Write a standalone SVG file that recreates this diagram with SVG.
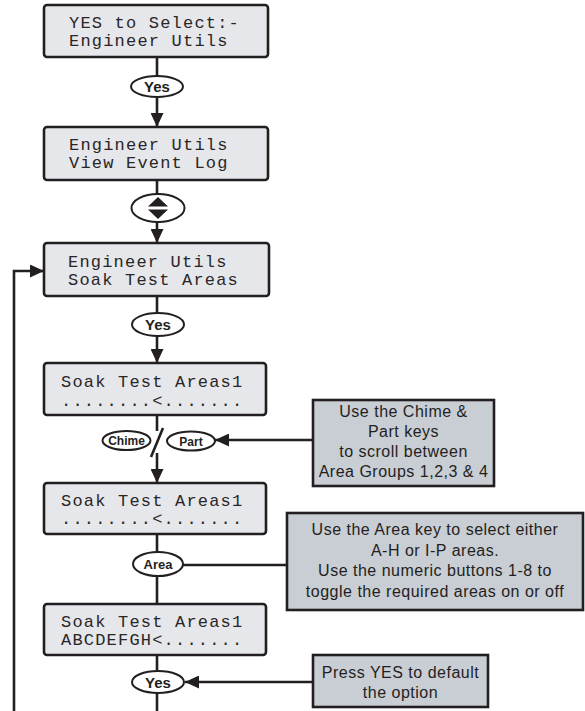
<svg xmlns="http://www.w3.org/2000/svg" width="585" height="711" viewBox="0 0 585 711">
<style>
.scr{fill:#e5e7eb;stroke:#231f20;stroke-width:2.6}
.note{fill:#c9cdd4;stroke:#231f20;stroke-width:2.6}
.lcd{font-family:"Liberation Mono","DejaVu Sans Mono",monospace;font-size:17px;letter-spacing:1.2px;fill:#2a2627}
.nt{font-family:"Liberation Sans",Arial,sans-serif;font-size:16px;letter-spacing:0.5px;fill:#231f20;text-anchor:middle}
.key{fill:#ffffff;stroke:#231f20;stroke-width:2}
.kt{font-family:"Liberation Sans",Arial,sans-serif;font-weight:bold;fill:#231f20;text-anchor:middle}
.ln{fill:none;stroke:#231f20;stroke-width:2.6}
</style>
<defs>
<marker id="ah" markerUnits="userSpaceOnUse" markerWidth="14" markerHeight="13" refX="14" refY="6.5" orient="auto">
<path d="M0,0 L14,6.5 L0,13 z" fill="#231f20"/>
</marker>
</defs>
<g id="connectors">
<path class="ln" d="M157,57 V76"/>
<path class="ln" d="M157,97 V127" marker-end="url(#ah)"/>
<path class="ln" d="M157,180 V194"/>
<path class="ln" d="M157,222 V243" marker-end="url(#ah)"/>
<path class="ln" d="M157,296 V313"/>
<path class="ln" d="M157,336 V363" marker-end="url(#ah)"/>
<path class="ln" d="M157,415 V431"/>
<path class="ln" d="M163,428 L151,457"/>
<path class="ln" d="M157,453 V483" marker-end="url(#ah)"/>
<path class="ln" d="M313,440 H215" marker-end="url(#ah)"/>
<path class="ln" d="M157,534 V552"/>
<path class="ln" d="M157,576 V604"/>
<path class="ln" d="M183,565 H287"/>
<path class="ln" d="M157,655 V671"/>
<path class="ln" d="M157,693 V711"/>
<path class="ln" d="M313,682 H185" marker-end="url(#ah)"/>
<path class="ln" d="M14,711 V271 H44" marker-end="url(#ah)"/>
</g>
<g id="screen1">
<rect class="scr" x="44" y="5" width="224" height="52" rx="3"/>
<text class="lcd" x="69" y="28">YES to Select:-</text>
<text class="lcd" x="69" y="46">Engineer Utils</text>
</g>
<g id="key-yes1">
<ellipse class="key" cx="157" cy="86.5" rx="26" ry="10.5"/>
<text class="kt" x="157" y="92" font-size="15">Yes</text>
</g>
<g id="screen2">
<rect class="scr" x="44" y="127" width="224" height="53" rx="3"/>
<text class="lcd" x="69" y="150">Engineer Utils</text>
<text class="lcd" x="69" y="168">View Event Log</text>
</g>
<g id="key-updown">
<ellipse class="key" cx="158" cy="208" rx="26.5" ry="14"/>
<path d="M158,197 L168,206.5 L148,206.5 z" fill="#231f20"/>
<path d="M148,209.5 L168,209.5 L158,219 z" fill="#231f20"/>
</g>
<g id="screen3">
<rect class="scr" x="44" y="243" width="225" height="53" rx="3"/>
<text class="lcd" x="68" y="267">Engineer Utils</text>
<text class="lcd" x="68" y="285">Soak Test Areas</text>
</g>
<g id="key-yes2">
<ellipse class="key" cx="158" cy="324.5" rx="26" ry="11.5"/>
<text class="kt" x="158" y="330" font-size="15">Yes</text>
</g>
<g id="screen4">
<rect class="scr" x="44" y="363" width="222" height="52" rx="3"/>
<text class="lcd" x="61" y="387">Soak Test Areas1</text>
<text class="lcd" x="61" y="406">........&lt;.......</text>
</g>
<g id="key-chime">
<ellipse class="key" cx="126.5" cy="440.5" rx="24" ry="9.5"/>
<text class="kt" x="126.5" y="445" font-size="12">Chime</text>
</g>
<g id="key-part">
<ellipse class="key" cx="191" cy="441" rx="24" ry="9.5"/>
<text class="kt" x="191" y="445.5" font-size="12">Part</text>
</g>
<g id="note1">
<rect class="note" x="313" y="400" width="181" height="86"/>
<text class="nt" x="403.5" y="417">Use the Chime &amp;</text>
<text class="nt" x="403.5" y="437">Part keys</text>
<text class="nt" x="403.5" y="457">to scroll between</text>
<text class="nt" x="403.5" y="477">Area Groups 1,2,3 &amp; 4</text>
</g>
<g id="screen5">
<rect class="scr" x="44" y="483" width="222" height="51" rx="3"/>
<text class="lcd" x="61" y="506">Soak Test Areas1</text>
<text class="lcd" x="61" y="524">........&lt;.......</text>
</g>
<g id="key-area">
<ellipse class="key" cx="158" cy="564" rx="25" ry="12"/>
<text class="kt" x="158" y="568.5" font-size="13">Area</text>
</g>
<g id="note2">
<rect class="note" x="287" y="513" width="296" height="97"/>
<text class="nt" x="435" y="535">Use the Area key to select either</text>
<text class="nt" x="435" y="556">A-H or I-P areas.</text>
<text class="nt" x="435" y="576">Use the numeric buttons 1-8 to</text>
<text class="nt" x="435" y="597">toggle the required areas on or off</text>
</g>
<g id="screen6">
<rect class="scr" x="44" y="604" width="222" height="51" rx="3"/>
<text class="lcd" x="61" y="627">Soak Test Areas1</text>
<text class="lcd" x="61" y="645">ABCDEFGH&lt;.......</text>
</g>
<g id="key-yes3">
<ellipse class="key" cx="158" cy="682" rx="26" ry="11"/>
<text class="kt" x="158" y="687.5" font-size="15">Yes</text>
</g>
<g id="note3">
<rect class="note" x="313" y="655" width="175" height="52"/>
<text class="nt" x="400.5" y="678">Press YES to default</text>
<text class="nt" x="400.5" y="698">the option</text>
</g>
</svg>
